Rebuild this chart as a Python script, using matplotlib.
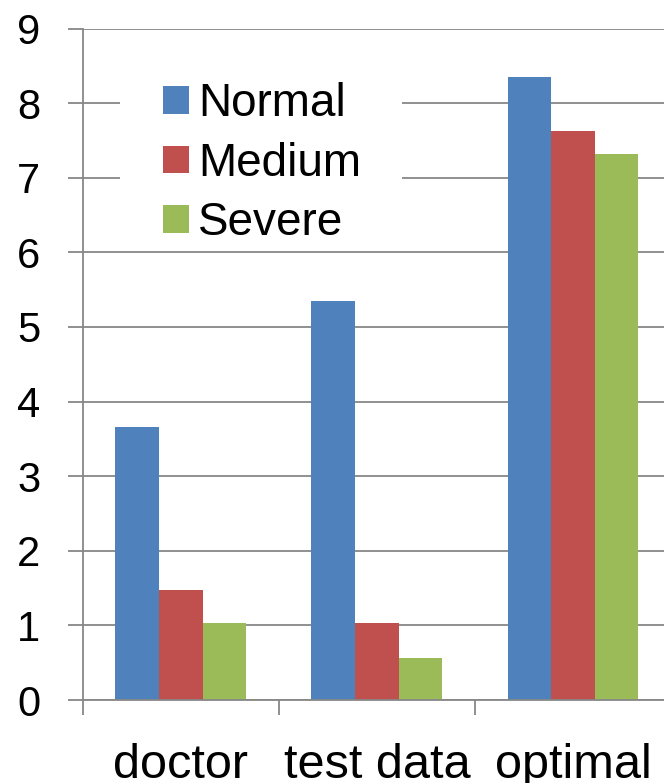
import matplotlib
matplotlib.use("Agg")
import matplotlib.pyplot as plt
from matplotlib.patches import Rectangle
import numpy as np

categories = ["doctor", "test data", "optimal"]
series_names = ["Normal", "Medium", "Severe"]
normal = [3.66, 5.35, 8.35]
medium = [1.47, 1.03, 7.62]
severe = [1.03, 0.56, 7.32]
y_ticks = list(range(0, 10))

colors = ["#4F81BD", "#C0504D", "#9BBB59"]
grid_color = "#878787"

plt.rcParams["font.family"] = ["Liberation Sans", "DejaVu Sans"]

W, H, DPI = 664, 783, 100
fig = plt.figure(figsize=(W / DPI, H / DPI), dpi=DPI)

# axes: left spine at x=82.7px, baseline at y=700px, value 9 at y=28.5px
left = 82.7 / W
right = 671.0 / W
bottom = (H - 700.0) / H
top = (H - 28.5) / H
ax = fig.add_axes([left, bottom, right - left, top - bottom])

x = np.arange(len(categories))
bar_w = 2.0 / 9.0
for j, (name, vals) in enumerate(zip(series_names, [normal, medium, severe])):
    ax.bar(x + (j - 1) * bar_w, vals, width=bar_w, color=colors[j],
           label=name, zorder=2, linewidth=0)

ax.set_xlim(-0.5, len(categories) - 0.5)
ax.set_ylim(0, 9)

# horizontal gridlines behind bars
ax.set_axisbelow(True)
ax.yaxis.grid(True, color=grid_color, linewidth=1.3)
ax.set_yticks(y_ticks)
ax.set_yticklabels([str(v) for v in y_ticks])
ax.tick_params(axis="y", direction="out", length=10.6, width=1.3,
               color=grid_color, labelsize=30, pad=20)

# category separators as major ticks, labels on minor ticks at centres
ax.set_xticks(np.arange(-0.5, len(categories)), minor=False)
ax.set_xticklabels([""] * (len(categories) + 1))
ax.set_xticks(x, minor=True)
ax.set_xticklabels(categories, minor=True)
ax.tick_params(axis="x", which="major", direction="out", length=10.8,
               width=1.3, color=grid_color)
ax.tick_params(axis="x", which="minor", length=0, labelsize=35, pad=31)

for s in ["top", "right"]:
    ax.spines[s].set_visible(False)
for s in ["left", "bottom"]:
    ax.spines[s].set_color(grid_color)
    ax.spines[s].set_linewidth(1.3)

# white legend background hiding the gridlines behind it
ax.add_patch(Rectangle((120 / W, (H - 245) / H), (402 - 120) / W, 200 / H,
                       transform=fig.transFigure, facecolor="white",
                       edgecolor="none", zorder=1.5))

leg = ax.legend(loc="upper left",
                bbox_to_anchor=(162.7 / W, (H - 82.0) / H),
                bbox_transform=fig.transFigure,
                frameon=False, fontsize=33, borderpad=0, borderaxespad=0,
                handlelength=0.57, handleheight=0.55, handletextpad=0.2,
                labelspacing=0.34)
leg.set_zorder(5)

fig.savefig("out.png", dpi=DPI)
